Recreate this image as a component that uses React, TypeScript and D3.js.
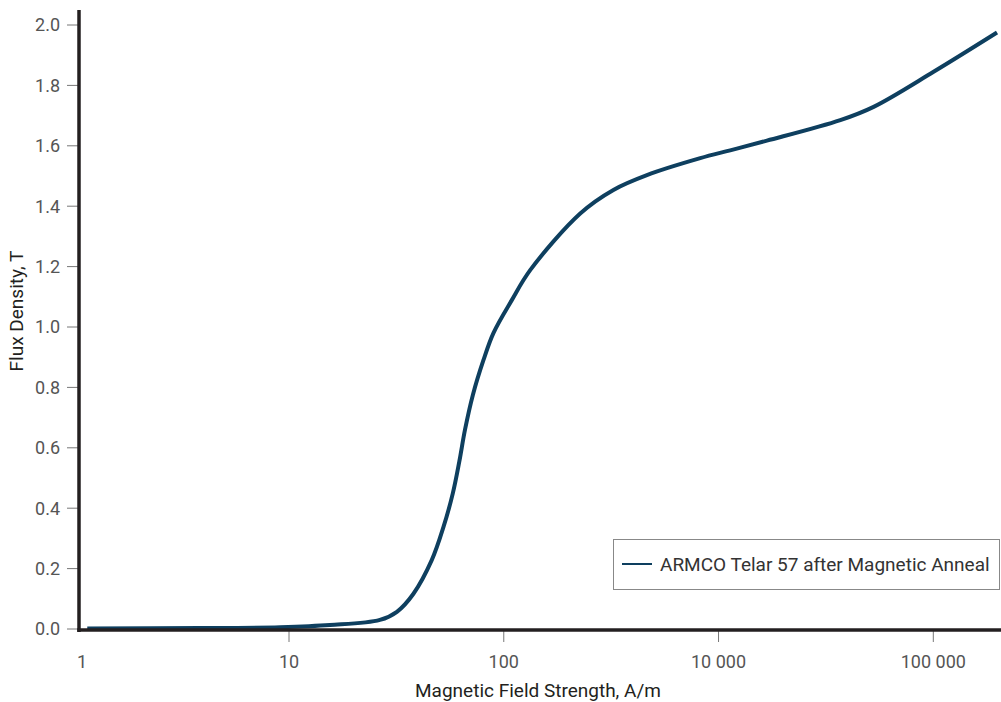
import React from "react";
import * as d3 from "d3";

// Data (H in A/m on the plotted log scale, B in T)
const fieldH = [1.15, 3.85, 9.1, 15.5, 26.5, 31.8, 37.9, 46.2, 52.4, 57.9, 62.1, 66.0, 71.8, 80.4, 89.5, 109, 133, 227, 324, 464, 822, 1133, 1680, 3690, 5275, 10030, 19800];
const fluxB = [0.002, 0.003, 0.006, 0.013, 0.03, 0.057, 0.116, 0.228, 0.338, 0.449, 0.555, 0.66, 0.775, 0.89, 0.98, 1.089, 1.189, 1.376, 1.454, 1.503, 1.559, 1.585, 1.617, 1.685, 1.729, 1.845, 1.975];
const xTickValues = [1, 10, 100, 1000, 10000];
const xTickLabels = ["1", "10", "100", "10 000", "100 000"];
const yTickValues = [0, 0.2, 0.4, 0.6, 0.8, 1.0, 1.2, 1.4, 1.6, 1.8, 2.0];
const seriesName = "ARMCO Telar 57 after Magnetic Anneal";

const W = 1001;
const H = 702;
const FONT = "'Liberation Sans Narrow', 'Arial Narrow', 'Roboto', sans-serif";
const LINE_COLOR = "#0e3f5f";
const AXIS_COLOR = "#231f20";
const TICK_TEXT = "#555";

export default function App() {
  const axisX = 79;
  const axisY = 630;
  const x = d3.scaleLog().domain([10, 10000]).range([289, 933.3]);
  const y = d3.scaleLinear().domain([0, 2]).range([629, 25]);
  const data = fieldH.map((h, i) => ({ h, b: fluxB[i] }));
  const line = d3
    .line<{ h: number; b: number }>()
    .x((d) => x(d.h))
    .y((d) => y(d.b))
    .curve(d3.curveCatmullRom.alpha(0.5));

  return (
    <div style={{ position: "absolute", left: 0, top: 0 }}>
      <svg width={W} height={H} style={{ display: "block", fontFamily: FONT }}>
        <rect width={W} height={H} fill="#fff" />
        {/* y ticks */}
        {yTickValues.map((v) => (
          <g key={"y" + v}>
            <line x1={67} x2={axisX} y1={y(v)} y2={y(v)} stroke="#777" strokeWidth={1} />
            <text x={60} y={y(v)} dy="0.35em" textAnchor="end" fontSize={18} fill={TICK_TEXT}>
              {v.toFixed(1)}
            </text>
          </g>
        ))}
        {/* x ticks */}
        {xTickValues.map((v, i) => {
          const px = x(v);
          const lx = Math.max(px, 82);
          return (
            <g key={"x" + v}>
              {i > 0 && <line x1={px} x2={px} y1={axisY} y2={642} stroke="#777" strokeWidth={1} />}
              <text x={lx} y={668} textAnchor="middle" fontSize={18} fill={TICK_TEXT}>
                {xTickLabels[i]}
              </text>
            </g>
          );
        })}
        {/* curve */}
        <path d={line(data) || ""} fill="none" stroke={LINE_COLOR} strokeWidth={4} strokeLinecap="butt" />
        {/* axes */}
        <line x1={axisX} x2={axisX} y1={10} y2={axisY + 2} stroke={AXIS_COLOR} strokeWidth={3.5} />
        <line x1={axisX - 1.75} x2={W} y1={axisY} y2={axisY} stroke={AXIS_COLOR} strokeWidth={3.5} />
        {/* axis titles */}
        <text x={538} y={697} textAnchor="middle" fontSize={19} fill={AXIS_COLOR}>
          Magnetic Field Strength, A/m
        </text>
        <text transform="translate(23,311) rotate(-90)" textAnchor="middle" fontSize={19} fill={AXIS_COLOR}>
          Flux Density, T
        </text>
        {/* legend */}
        <rect x={613.5} y={539.5} width={386} height={50} fill="#fff" stroke="#888" strokeWidth={1} />
        <line x1={622} x2={652} y1={564} y2={564} stroke={LINE_COLOR} strokeWidth={2} />
        <text x={660} y={564} dy="0.35em" fontSize={19} fill="#333">
          {seriesName}
        </text>
      </svg>
    </div>
  );
}
